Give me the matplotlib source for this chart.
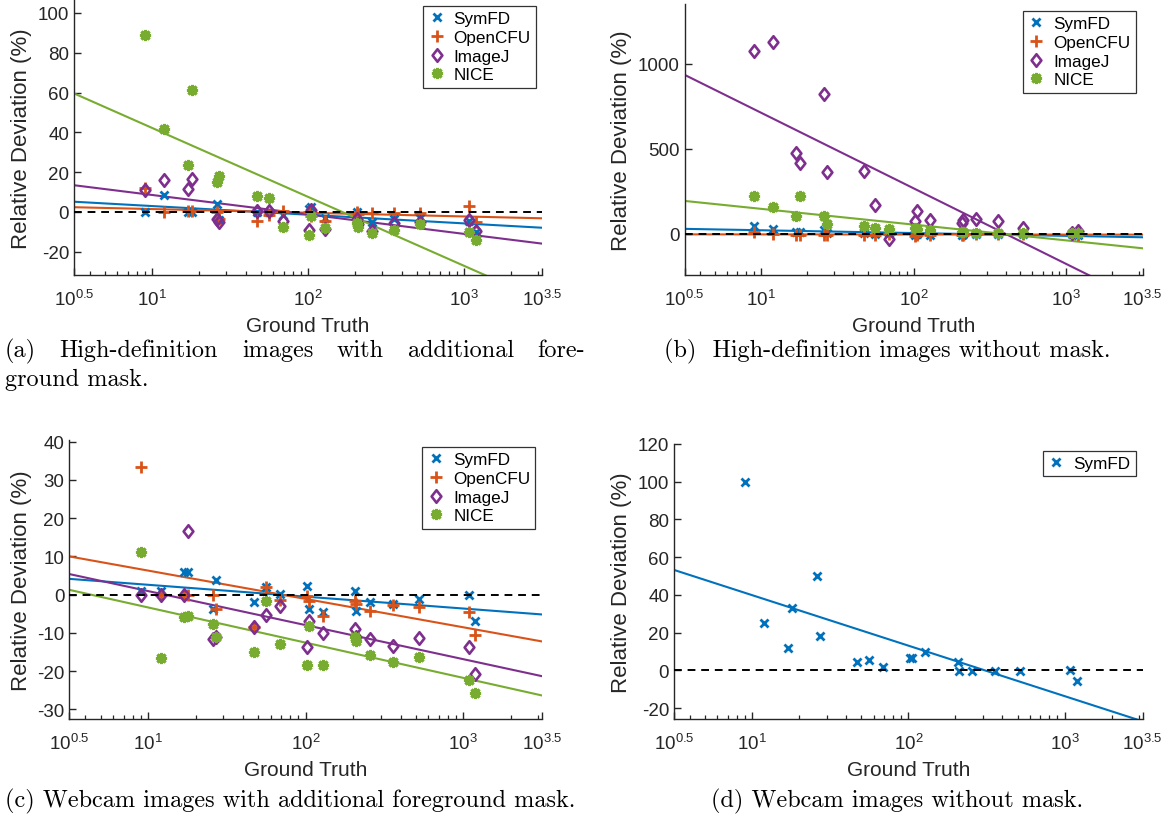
import numpy as np
import matplotlib
matplotlib.use("Agg")
import matplotlib.pyplot as plt
from matplotlib.path import Path
from matplotlib.ticker import LogLocator, NullFormatter, FixedLocator, FixedFormatter

plt.rcParams['font.family'] = ['Liberation Sans', 'DejaVu Sans']
plt.rcParams['mathtext.fontset'] = 'custom'
plt.rcParams['mathtext.rm'] = 'Liberation Sans'
plt.rcParams['mathtext.it'] = 'Liberation Sans:italic'
plt.rcParams['axes.unicode_minus'] = False

# ---------------- data ----------------
ground_truth = [9, 12, 17, 18, 26, 27, 47, 56, 69, 102, 105, 128, 207, 210, 256, 356, 522, 1081, 1194]

# (a) high-definition, with foreground mask
a_symfd = [0, 8.5, 0, 0, 4.0, -4.0, 0, 0, -1.5, 1.5, 2.4, -3.0, -0.2, -5.0, -5.0, -3.5, -3.0, -4.4, -10.0]
a_opencfu = [12.0, 0, 0.5, 0.5, 0, -3.5, -4.4, -1.5, 0.7, 0, -2.0, -4.4, 0, -1.0, -0.5, -0.5, -0.5, 3.2, -5.0]
a_imagej = [11.1, 16.1, 11.6, 16.5, -3.5, -4.9, 0.7, 0.3, -4.4, -9.0, 1.0, -8.5, -3.5, -6.0, -9.4, -5.5, -5.2, -3.9, -9.4]
a_nice = [89, 41.7, 23.6, 61.3, 15.2, 18.2, 8.2, 7.0, -7.7, -11.6, -1.9, -8.2, -5.5, -7.4, -10.6, -9.2, -6.2, -9.9, -13.9]

# (b) high-definition, without mask
b_symfd = [45, 30, 10, 8, 20, 5, 2, 0, 5, -5, -2, -5, -8, -3, -2, -1, -3, -4, -8]
b_opencfu = [11, 0, -5, -10, -10, -8, -5, -10, 0, -15, -5, -10, -10, -5, 0, 0, 0, -3, -5]
b_imagej = [1076, 1126, 473, 416, 820, 361, 371, 169, -31, 76, 132, 80, 63, 80, 86, 76, 32, 2, 18]
b_nice = [224, 159, 102, 224, 102, 57, 47, 32, 28, 32, 28, 24, 8, 12, 2, 2, 2, 2, 2]

# (c) webcam, with foreground mask
c_symfd = [1.0, 1.0, 5.8, 5.8, -3.7, 3.8, -2.0, 1.9, 0.2, 2.2, -3.7, -4.5, 1.0, -4.2, -1.8, -2.4, -1.1, -0.1, -6.8]
c_opencfu = [33.3, 0, 0, 0, 0, -3.7, -8.5, 1.9, -1.5, -0.4, -1.6, -5.5, -1.6, -2.5, -4.2, -2.7, -3.3, -4.6, -10.5]
c_imagej = [0, 0, 0, 16.7, -11.7, -11.0, -8.5, -5.3, -3.1, -13.7, -6.8, -10.0, -9.0, -11.0, -11.6, -13.5, -11.3, -13.7, -20.7]
c_nice = [11.2, -16.6, -5.9, -5.7, -7.6, -11.0, -14.9, -1.7, -13.0, -18.5, -8.1, -18.5, -11.1, -12.0, -15.7, -17.7, -16.3, -22.2, -25.7]

# (d) webcam, without mask
d_symfd = [100, 25, 11.8, 33.3, 50, 18.3, 4.2, 5.6, 1.75, 6.7, 6.7, 9.5, 4.6, -0.5, -0.2, -0.2, -0.5, 0.3, -5.8]

method_names = ["SymFD", "OpenCFU", "ImageJ", "NICE"]
x_tick_exponents = [0.5, 1, 2, 3, 3.5]
x_tick_labels = [r"$10^{0.5}$", r"$10^{1}$", r"$10^{2}$", r"$10^{3}$", r"$10^{3.5}$"]
captions = {
    "a": ["(a)", "High-definition", "images", "with", "additional", "fore-"],
    "a2": "ground mask.",
    "b": "(b)  High-definition images without mask.",
    "c": "(c) Webcam images with additional foreground mask.",
    "d": "(d) Webcam images without mask.",
}

# ---------------- styles ----------------
COLORS = {"SymFD": "#0072BD", "OpenCFU": "#D95319", "ImageJ": "#7E2F8E", "NICE": "#77AC30"}
diamond = Path([(0, 1), (0.78, 0), (0, -1), (-0.78, 0), (0, 1)],
               [Path.MOVETO, Path.LINETO, Path.LINETO, Path.LINETO, Path.CLOSEPOLY])
MARKERS = {
    "SymFD": dict(marker="x", ms=5.5, mew=2.0),
    "OpenCFU": dict(marker="+", ms=8, mew=2.0),
    "ImageJ": dict(marker=diamond, ms=9, mew=1.9, mfc="none"),
    "NICE": dict(marker=(8, 2, 0), ms=8, mew=2.2),
}
AXCOL = "#262626"

W, H = 1169, 820
fig = plt.figure(figsize=(W / 100, H / 100), dpi=100)


def px_rect(left, top, right, bottom):
    return [left / W, 1 - bottom / H, (right - left) / W, (bottom - top) / H]


def panel(rect, ylim, yticks, series, leg_anchor):
    ax = fig.add_axes(rect)
    ax.set_xscale("log")
    xmin, xmax = 10 ** 0.5, 10 ** 3.5
    ax.set_xlim(xmin, xmax)
    ax.set_ylim(*ylim)
    lx = np.log10(ground_truth)
    xs = np.logspace(0.5, 3.5, 100)
    handles = []
    for name, vals in series:
        st = MARKERS[name]
        h, = ax.plot(ground_truth, vals, linestyle="none", color=COLORS[name],
                     mec=COLORS[name], label=name, zorder=3, **st)
        handles.append(h)
    for name, vals in series:
        p = np.polyfit(lx, vals, 1)
        ax.plot(xs, np.polyval(p, np.log10(xs)), color=COLORS[name], lw=1.5, zorder=2)
    ax.plot([xmin, xmax], [0, 0], color="k", ls=(0, (4, 3)), lw=1.4, zorder=4)

    for s in ["top", "right"]:
        ax.spines[s].set_visible(False)
    for s in ["left", "bottom"]:
        ax.spines[s].set_color(AXCOL)
        ax.spines[s].set_linewidth(1.0)
    ax.xaxis.set_major_locator(FixedLocator([10 ** e for e in x_tick_exponents]))
    ax.xaxis.set_major_formatter(FixedFormatter(x_tick_labels))
    ax.xaxis.set_minor_locator(LogLocator(base=10, subs=np.arange(2, 10)))
    ax.xaxis.set_minor_formatter(NullFormatter())
    ax.set_yticks(yticks)
    ax.tick_params(axis="both", which="major", direction="in", length=5, width=1.0,
                   colors=AXCOL, labelsize=13.5, top=False, right=False)
    ax.tick_params(axis="x", which="minor", direction="in", length=3, width=0.9,
                   colors=AXCOL, top=False)
    ax.tick_params(axis="x", which="major", pad=10)
    ax.set_xlabel("Ground Truth", fontsize=15, color=AXCOL, labelpad=5)
    ax.set_ylabel("Relative Deviation (%)", fontsize=16, color=AXCOL, labelpad=4)
    leg = ax.legend(handles=handles, loc="upper right", bbox_to_anchor=leg_anchor,
                    fontsize=12.3, frameon=True, fancybox=False, handlelength=1.0,
                    handletextpad=0.5, borderpad=0.3, labelspacing=0.22, borderaxespad=0)
    leg.get_frame().set_edgecolor("k")
    leg.get_frame().set_linewidth(0.9)
    for t in leg.get_texts():
        t.set_color("k")
    return ax


panel(px_rect(74, 1, 542, 276), (-31.7, 106.5), [-20, 0, 20, 40, 60, 80, 100],
      list(zip(method_names, [a_symfd, a_opencfu, a_imagej, a_nice])), (0.987, 0.978))
panel(px_rect(684.7, 5, 1142.7, 276), (-243, 1351), [0, 500, 1000],
      list(zip(method_names, [b_symfd, b_opencfu, b_imagej, b_nice])), (0.985, 0.974))
panel(px_rect(69.3, 441, 542, 720), (-32.5, 40.4), list(range(-30, 41, 10)),
      list(zip(method_names, [c_symfd, c_opencfu, c_imagej, c_nice])), (0.986, 0.975))
panel(px_rect(674, 445, 1142.7, 720), (-25.8, 120), list(range(-20, 121, 20)),
      [("SymFD", d_symfd)], (0.985, 0.976))

# ---------------- captions ----------------
cap_kw = dict(fontsize=17.5, family=["cmr10", "DejaVu Serif"], va="center", color="k")
renderer = fig.canvas.get_renderer()


def justify(words, x0, x1, y):
    texts = [fig.text(0, y, w, **cap_kw) for w in words]
    widths = [t.get_window_extent(renderer).width for t in texts]
    gap = ((x1 - x0) - sum(widths)) / (len(words) - 1)
    pos = x0
    for t, w in zip(texts, widths):
        t.set_x(pos / W)
        pos += w + gap


justify(captions["a"], 5, 585, 1 - 351 / H)
fig.text(5 / W, 1 - 380 / H, captions["a2"], ha="left", **cap_kw)
fig.text(887 / W, 1 - 351 / H, captions["b"], ha="center", **cap_kw)
fig.text(5 / W, 1 - 801 / H, captions["c"], ha="left", **cap_kw)
fig.text(897 / W, 1 - 801 / H, captions["d"], ha="center", **cap_kw)

fig.savefig("out.png", dpi=100)
